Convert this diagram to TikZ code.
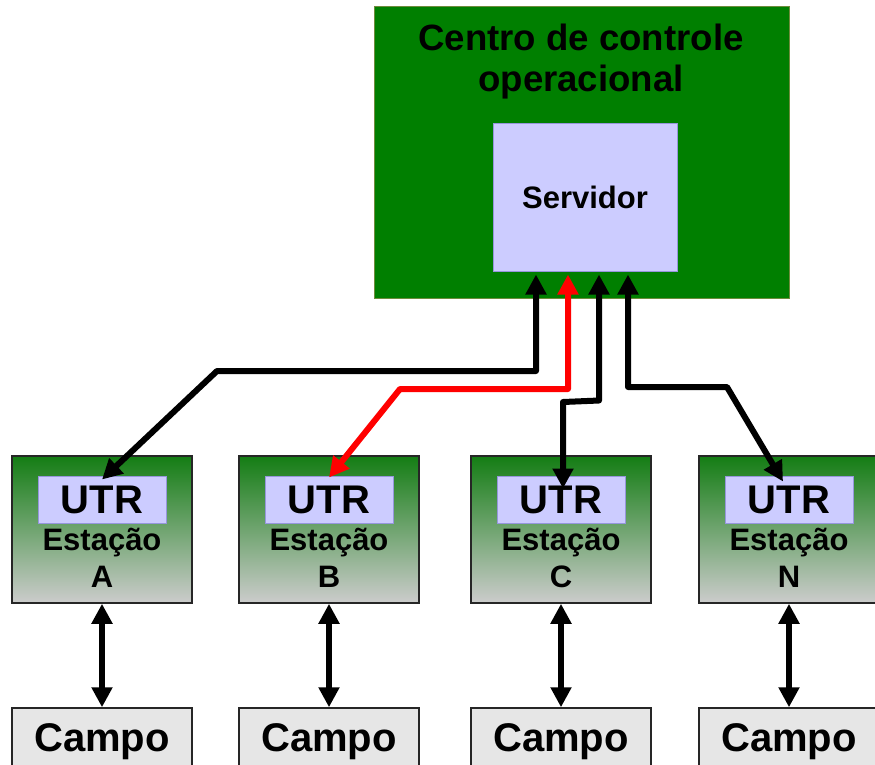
\documentclass[tikz,border=0pt]{standalone}
\usepackage{fontspec}
\setmainfont{Liberation Sans}
\usetikzlibrary{arrows.meta}

\definecolor{centroGreen}{RGB}{0,127,0}
\definecolor{centroEdge}{RGB}{110,140,60}
\definecolor{topGreen}{RGB}{20,125,20}
\definecolor{bottomGray}{RGB}{204,204,204}
\definecolor{utrFill}{RGB}{204,204,255}
\definecolor{utrEdge}{RGB}{150,150,220}
\definecolor{campoFill}{RGB}{230,230,230}

\begin{document}
\begin{tikzpicture}[x=1pt, y=-1pt]
  \tikzset{
  CentroStyle/.style = {
  draw = centroEdge,
  fill = centroGreen,
  line width = 1pt,
  minimum width = 415pt,
  minimum height = 292pt},
  ServStyle/.style = {
  draw = utrEdge,
  fill = utrFill,
  line width = 1pt,
  minimum width = 184pt,
  minimum height = 148pt,
  font = \fontsize{31}{31}\selectfont\bfseries},
  StationStyle/.style = {
  draw = black!85,
  top color = topGreen,
  bottom color = bottomGray,
  line width = 1.5pt,
  minimum width = 180pt,
  minimum height = 147pt},
  UtrStyle/.style = {
  draw = utrEdge,
  fill = utrFill,
  line width = 1pt,
  minimum width = 128pt,
  minimum height = 47pt,
  font = \fontsize{40}{40}\selectfont\bfseries},
  NameStyle/.style = {
  align = center,
  font = \fontsize{31}{37}\selectfont\bfseries},
  CampoStyle/.style = {
  draw = black!85,
  fill = campoFill,
  line width = 1.5pt,
  minimum width = 180pt,
  minimum height = 70pt},
  CampoText/.style = {
  font = \fontsize{40}{40}\selectfont\bfseries},
  LinkStyle/.style = {
  line width = 6pt,
  line join = round,
  {Triangle[length=20pt,width=20pt]}-{Triangle[length=20pt,width=20pt]}}}
  \useasboundingbox (0,0) rectangle (875,764);

  % centro de controle
  \node[CentroStyle] (centro) at (581.5,152) {};
  \node[align=center, font=\fontsize{36.6}{41}\selectfont\bfseries] (titulo) at (581,62)
    {Centro de controle\\operacional};
  \node[ServStyle] (serv) at (585,197) {Servidor};

  % estacoes
  \foreach \px/\nm in {102/A, 329/B, 561/C, 789/N}{
    \node[StationStyle] (est\nm) at (\px,529.5) {};
    \node[UtrStyle] (utr\nm) at (\px,499.5) {UTR};
    \node[NameStyle] (nome\nm) at (\px,558) {Estação\\\nm};
    \node[CampoStyle] (campo\nm) at (\px,743) {};
    \node[CampoText] (txt\nm) at (\px,742) {Campo};
    \draw[LinkStyle, draw=\ifx\nm B red\else black\fi] (est\nm.south) -- (campo\nm.north);
  }

  % ligacoes com o servidor
  \coordinate (dobraA) at (217,371);
  \coordinate (dobraB) at (400,389);
  \coordinate (dobraC) at (563,402);
  \coordinate (dobraN) at (727,387);
  \draw[LinkStyle] ([xshift=-49pt,yshift=-3pt]serv.south) |- (dobraA) -- ([yshift=-4pt]utrA.north);
  \draw[LinkStyle, red] ([xshift=-17pt,yshift=-3pt]serv.south) |- (dobraB) -- ([yshift=-2pt]utrB.north);
  \draw[LinkStyle] ([xshift=14pt,yshift=-3pt]serv.south) -- ++(0,126) -- (dobraC) -- ([xshift=2pt,yshift=-13pt]utrC.north);
  \draw[LinkStyle] ([xshift=43pt,yshift=-3pt]serv.south) |- (dobraN) -- ([xshift=-6pt,yshift=-6pt]utrN.north);
\end{tikzpicture}
\end{document}
